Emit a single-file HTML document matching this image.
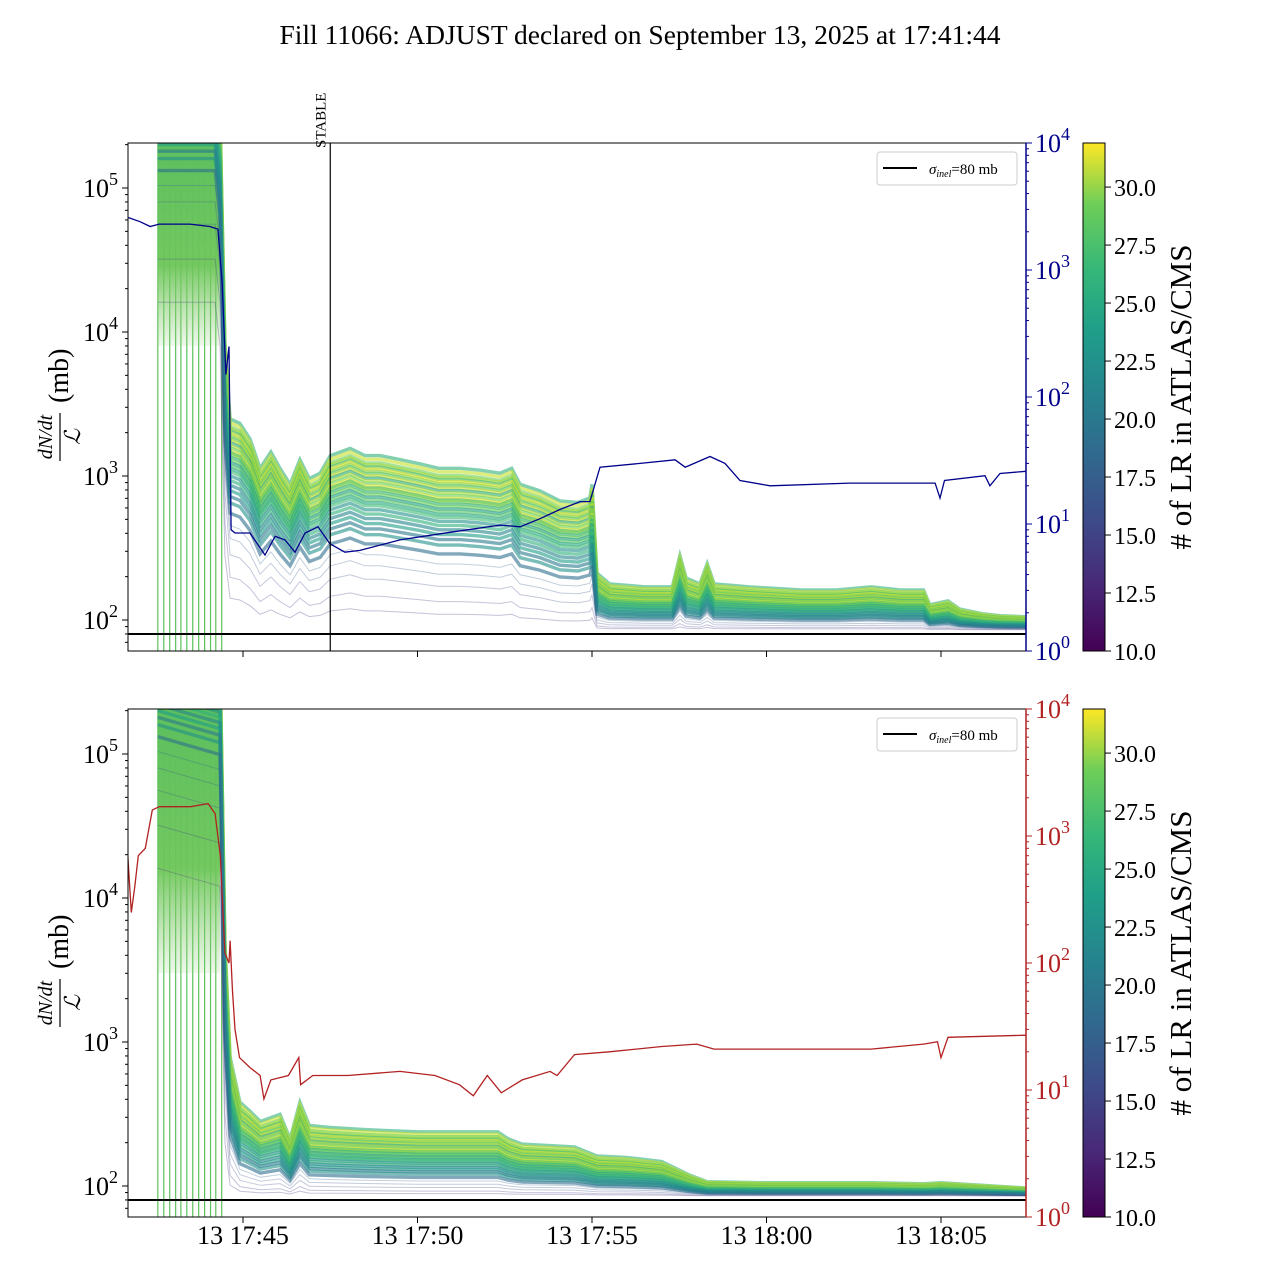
<!DOCTYPE html>
<html><head><meta charset="utf-8"><style>
body{margin:0;background:#fff}
svg{display:block;font-family:"Liberation Serif",serif}
</style></head><body>
<svg id="chart" width="1280" height="1280" viewBox="0 0 1280 1280" xmlns="http://www.w3.org/2000/svg">
<defs>
<clipPath id="clipTop"><rect x="128" y="143" width="898" height="508"/></clipPath>
<clipPath id="clipBot"><rect x="128" y="709" width="898" height="508"/></clipPath>
<linearGradient id="viridis" x1="0" y1="1" x2="0" y2="0">
<stop offset="0" stop-color="#440154"/><stop offset="0.13" stop-color="#482878"/><stop offset="0.25" stop-color="#3e4989"/><stop offset="0.38" stop-color="#31688e"/><stop offset="0.5" stop-color="#26828e"/><stop offset="0.63" stop-color="#1f9e89"/><stop offset="0.75" stop-color="#35b779"/><stop offset="0.88" stop-color="#6ece58"/><stop offset="1" stop-color="#fde725"/>
</linearGradient>
<linearGradient id="satfill" x1="0" y1="0" x2="0" y2="1">
<stop offset="0" stop-color="#5cbf5e" stop-opacity="1"/><stop offset="0.6" stop-color="#6cc558" stop-opacity="0.95"/><stop offset="1" stop-color="#8fd07a" stop-opacity="0.15"/>
</linearGradient>
</defs>
<text x="640" y="44" text-anchor="middle" font-size="27.5">Fill 11066: ADJUST declared on September 13, 2025 at 17:41:44</text>
<g id="top"></g>
<g id="bot"></g>
</svg>
<script>
// time in minutes after 17:00
const topTimes=[42.56,44.2,44.34,44.48,44.63,44.91,45.2,45.49,45.8,46.06,46.35,46.63,46.9,47.21,47.5,47.8,48.07,48.5,48.93,49.5,50.07,50.6,51.22,51.8,52.36,52.7,52.94,53.5,54.08,54.6,54.94,55.0,55.14,55.5,56.5,57.3,57.52,57.7,58.09,58.3,58.5,59.5,61,62,63,63.83,64.5,64.68,65.2,65.54,66.2,66.69,67.44];
const topMedian=[4e5,4e5,2e5,5000,1500,1400,1100,700,900,700,550,800,600,650,850,900,950,850,850,800,750,700,700,680,650,700,550,500,430,420,450,550,160,140,135,135,200,150,140,180,140,135,130,130,135,130,130,110,115,105,100,98,97];
const botTimes=[42.56,44.34,44.48,44.63,44.91,45.2,45.5,46.06,46.35,46.63,46.9,47.5,48.5,50,52.3,52.6,53,54.5,55.14,56,57,57.8,58.3,60,63,64.5,65,67.44];
const botMedian=[4e5,3e5,3000,500,260,230,200,220,160,260,190,185,180,175,175,160,150,145,130,128,122,105,98,97,97,96,97,92];
const lineFactors=[1.7,1.6,1.5,1.45,1.4,1.35,1.3,1.25,1.2,1.15,1.1,1.05,1.0,0.97,0.94,0.9,0.86,0.82,0.78,0.74,0.7,0.65,0.6,0.55,0.5,0.45,0.4,0.33,0.26,0.2,0.14,0.08,0.04];
const lineLR=[24,30,27,29,25,31,28,26,30,23,29,27,31,25,28,24,27,22,26,23,25,21,24,20,22,19,21,18,17,16,15,14,13];
const bandFloor=85;
const satStart=42.56, satEnd=44.34;
const satLowTop=8000, satLowBot=3000;
const navyTimes=[41.7,42.05,42.34,42.6,43.48,44.05,44.28,44.4,44.51,44.6,44.66,44.77,45.2,45.63,45.92,46.2,46.49,46.78,47.15,47.49,47.92,48.35,49.5,50.93,52.36,52.94,53.51,54.08,54.66,54.94,55.23,56.38,57.38,57.67,58.38,58.81,59.24,60.1,62.39,64.83,64.97,65.1,66.26,66.4,66.69,67.44];
const navyValues=[2600,2400,2200,2300,2300,2200,2100,800,150,250,9,8.5,8.5,5.7,8,7.5,6,8.5,9.5,7,6,6.2,7.5,8.6,9.8,9.5,11,13,15,15,28,30,32,28,34,30,22,20,21,21,16,22,24,20,25,26];
const redTimes=[41.7,41.8,41.9,42.0,42.2,42.4,42.6,43.5,44.0,44.2,44.35,44.48,44.6,44.63,44.7,44.77,44.9,45.2,45.49,45.6,45.8,46.3,46.6,46.65,47,48,49.5,50.5,51.2,51.6,52,52.4,53,53.8,54,54.5,55.5,57,58,58.5,60,63,64.5,64.9,65,65.2,67.44];
const redValues=[700,250,400,700,800,1600,1700,1700,1800,1500,700,120,100,150,60,30,18,15,13,8.5,12,13,18,11,13,13,14,13,11,9,13,9.5,12,14,13,19,20,22,23,21,21,21,23,24,18,26,27];
const spikeTimes=[42.56,42.73,42.9,43.07,43.22,43.39,43.56,43.73,43.9,44.07,44.22,44.39];
const xTicks=[45,50,55,60,65];
const xTickLabels=["13 17:45","13 17:50","13 17:55","13 18:00","13 18:05"];
const cbTicks=[10,12.5,15,17.5,20,22.5,25,27.5,30];
const stableTime=47.5;
const sigma=80;

const NS="http://www.w3.org/2000/svg";
function mk(tag,attrs,parent){const e=document.createElementNS(NS,tag);for(const k in attrs)e.setAttribute(k,attrs[k]);parent.appendChild(e);return e;}
const X0=128,X1=1026;
function xs(t){return 243+(t-45)*34.9;}
function viridis(v){const s=[[68,1,84],[72,40,120],[62,73,137],[49,104,142],[38,130,142],[31,158,137],[53,183,121],[110,206,88],[181,222,43],[253,231,37]];let f=Math.max(0,Math.min(1,(v-10)/21.9))*(s.length-1);const i=Math.min(s.length-2,Math.floor(f));f-=i;const c=s[i].map((a,k)=>Math.round(a+(s[i+1][k]-a)*f));return `rgb(${c})`;}

function panel(g,yTop,clip,times,median,rTimes,rValues,rColor,showX,satLow){
  const y2=yTop+477;
  const yL=v=>y2-(Math.log10(v)-2)*144;
  const yBot=yTop+508;
  const yR=v=>yBot-Math.log10(v)*127;
  const plot=mk('g',{'clip-path':`url(#${clip})`},g);
  
  
  spikeTimes.forEach(t=>{const l=mk('line',{x1:xs(t),x2:xs(t),y1:yTop,y2:yBot,stroke:'#5cc25a','stroke-width':1.2},plot);
    
    });
  const sat=mk('rect',{x:xs(satStart),y:yTop,width:xs(satEnd)-xs(satStart),height:yL(satLow)-yTop,fill:'url(#satfill)'},plot);
  
  
  lineFactors.forEach((f,i)=>{
    const d=times.map((t,j)=>(j?'L':'M')+xs(t).toFixed(1)+','+yL(bandFloor+(median[j]-bandFloor)*f).toFixed(1)).join('');
    const p=mk('path',{d,fill:'none',stroke:viridis(lineLR[i]),'stroke-width':f<0.3?1:3.4,'stroke-opacity':f<0.3?0.3:0.6},plot);
    
    
  });
  const hl=mk('line',{x1:X0,x2:X1,y1:yL(sigma),y2:yL(sigma),stroke:'#000','stroke-width':2},plot);
  
  
  const rd=rTimes.map((t,j)=>(j?'L':'M')+xs(t).toFixed(1)+','+yR(rValues[j]).toFixed(1)).join('');
  const rp=mk('path',{d:rd,fill:'none',stroke:rColor,'stroke-width':1.3},plot);
  
  
  const fr=mk('rect',{x:X0,y:yTop,width:X1-X0,height:508,fill:'none',stroke:'#000','stroke-width':1},g);
  
  
  [2,3,4,5].forEach(e=>{const y=yL(Math.pow(10,e));mk('line',{x1:X0-6,x2:X0,y1:y,y2:y,stroke:'#000'},g);
    const t=mk('text',{x:X0-10,y:y+9,'text-anchor':'end','font-size':26},g);t.innerHTML='10<tspan dy="-12" font-size="18">'+e+'</tspan>';
    
    
    for(let k=2;k<10;k++){const yy=yL(k*Math.pow(10,e-1));if(yy>yTop&&yy<yBot)mk('line',{x1:X0-3,x2:X0,y1:yy,y2:yy,stroke:'#000'},g);}});
  for(let k=2;k<10;k++){const yy=yL(k*1e5);if(yy>yTop)mk('line',{x1:X0-3,x2:X0,y1:yy,y2:yy,stroke:'#000'},g);}
  mk('line',{x1:X1,x2:X1,y1:yTop,y2:yBot,stroke:rColor,'stroke-width':1.5},g);
  [0,1,2,3,4].forEach(e=>{const y=yR(Math.pow(10,e));mk('line',{x1:X1,x2:X1+6,y1:y,y2:y,stroke:rColor},g);
    const t=mk('text',{x:X1+9,y:y+9,'font-size':26,fill:rColor},g);t.innerHTML='10<tspan dy="-12" font-size="18">'+e+'</tspan>';
    
    
    if(e<4)for(let k=2;k<10;k++){const yy=yR(k*Math.pow(10,e));mk('line',{x1:X1,x2:X1+3,y1:yy,y2:yy,stroke:rColor},g);}});
  xTicks.forEach((t,i)=>{mk('line',{x1:xs(t),x2:xs(t),y1:yBot,y2:yBot+6,stroke:'#000'},g);
    if(showX){const tx=mk('text',{x:xs(t),y:yBot+27,'text-anchor':'middle','font-size':26},g);tx.textContent=xTickLabels[i];
      
      }});
  const lg=mk('g',{},g);
  
  
  mk('rect',{x:877,y:yTop+9,width:140,height:33,rx:3,fill:'#fff',stroke:'#ccc'},lg);
  mk('line',{x1:883,x2:917,y1:yTop+25,y2:yTop+25,stroke:'#000','stroke-width':2},lg);
  const lt=mk('text',{x:929,y:yTop+31,'font-size':15},lg);lt.innerHTML='<tspan font-style="italic">σ</tspan><tspan font-style="italic" font-size="10" dy="3">inel</tspan><tspan dy="-3">=80 mb</tspan>';
  const yl=mk('g',{transform:`translate(60,${yTop+254}) rotate(-90)`},g);
  
  
  const n=mk('text',{x:-40,y:-8,'text-anchor':'middle','font-size':20,'font-style':'italic'},yl);n.textContent='dN/dt';
  mk('line',{x1:-64,x2:-16,y1:0,y2:0,stroke:'#000','stroke-width':1.2},yl);
  const dd=mk('text',{x:-40,y:20,'text-anchor':'middle','font-size':22,'font-style':'italic'},yl);dd.textContent='ℒ';
  const mb=mk('text',{x:-6,y:8,'font-size':28},yl);mb.textContent='(mb)';
  const cb=mk('rect',{x:1083,y:yTop,width:22,height:508,fill:'url(#viridis)',stroke:'#000','stroke-width':1},g);
  
  
  cbTicks.forEach(v=>{const y=yBot-(v-10)/21.9*508;mk('line',{x1:1105,x2:1111,y1:y,y2:y,stroke:'#000'},g);
    const t=mk('text',{x:1114,y:y+9,'font-size':24},g);t.textContent=v.toFixed(1);
    
    });
  const cl=mk('text',{transform:`translate(1191,${yTop+254}) rotate(-90)`,'text-anchor':'middle','font-size':31},g);cl.textContent='# of LR in ATLAS/CMS';
  
  
}
const gt=document.getElementById('top'),gb=document.getElementById('bot');
panel(gt,143,'clipTop',topTimes,topMedian,navyTimes,navyValues,'#00008b',false,satLowTop);
panel(gb,709,'clipBot',botTimes,botMedian,redTimes,redValues,'#b22222',true,satLowBot);
const sl=mk('line',{x1:xs(stableTime),x2:xs(stableTime),y1:143,y2:651,stroke:'#000','stroke-width':1.2},gt);


const st=mk('text',{transform:`translate(${xs(stableTime)-5},148) rotate(-90)`,'font-size':15},gt);st.textContent='STABLE';


</script>
</body></html>
